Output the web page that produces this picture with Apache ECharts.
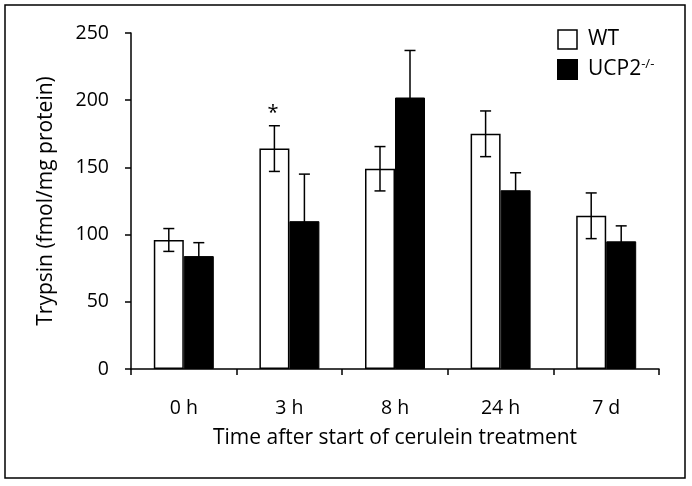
<!DOCTYPE html>
<html><head><meta charset="utf-8">
<script src="https://cdn.jsdelivr.net/npm/echarts@6/dist/echarts.min.js"></script>
<style>html,body{margin:0;padding:0;background:#fff}#c{width:692px;height:486px}</style>
</head><body><div id="c"></div>
<script>
const categories = ['0 h', '3 h', '8 h', '24 h', '7 d'];
const wtValues = [96, 164, 149, 175, 114];
const wtErrors = [8.5, 17, 16.5, 17, 17];
const koValues = [84, 110, 202, 133, 95];
const koErrors = [10, 35, 35, 13, 11.5];
const yTicks = [0, 50, 100, 150, 200, 250];

const FONT = 'Open Sans';
const chart = echarts.init(document.getElementById('c'));

function errSeries(vals, errs, offset) {
  return {
    type: 'custom',
    silent: true,
    z: 10,
    data: vals.map((v, i) => [i, v, errs[i]]),
    renderItem: function (params, api) {
      const i = api.value(0), v = api.value(1), e = api.value(2);
      const hi = api.coord([i, v + e]);
      const lo = api.coord([i, v - e]);
      const x = hi[0] + offset;
      const cw = 5.5;
      const style = {stroke: '#000', lineWidth: 1.5};
      return {type: 'group', children: [
        {type: 'line', shape: {x1: x, y1: hi[1], x2: x, y2: lo[1]}, style},
        {type: 'line', shape: {x1: x - cw, y1: hi[1], x2: x + cw, y2: hi[1]}, style},
        {type: 'line', shape: {x1: x - cw, y1: lo[1], x2: x + cw, y2: lo[1]}, style}
      ]};
    }
  };
}

chart.setOption({
  animation: false,
  textStyle: {fontFamily: FONT},
  graphic: [{type: 'rect', shape: {x: 5, y: 5, width: 680, height: 473}, style: {fill: 'none', stroke: '#000', lineWidth: 1.5}, z: -1},
    {type: 'text', x: 273, y: 113, style: {text: '*', font: '20px "' + FONT + '"', fill: '#000', textAlign: 'center', textVerticalAlign: 'middle'}}],
  grid: {left: 131, right: 33, top: 33, bottom: 117},
  legend: {
    orient: 'vertical', left: 552, top: 24, itemGap: 8,
    itemWidth: 19, itemHeight: 19, icon: 'rect',
    data: [{name: 'WT', itemStyle: {color: '#fff', borderColor: '#000', borderWidth: 1.5}}, {name: 'UCP2'}],
    formatter: n => n === 'UCP2' ? 'UCP2{sup|-/-}' : n,
    textStyle: {fontFamily: FONT, fontSize: 21, color: '#000', padding: [0, 0, 0, 6],
      rich: {sup: {fontSize: 13, verticalAlign: 'top', padding: [0, 0, 10, 0], fontFamily: FONT, color: '#000'}}}
  },
  xAxis: {
    type: 'category', data: categories,
    name: 'Time after start of cerulein treatment', nameLocation: 'middle', nameGap: 59,
    nameTextStyle: {fontFamily: FONT, fontSize: 21, color: '#000'},
    axisLine: {lineStyle: {color: '#000', width: 1.5}},
    axisTick: {show: true, length: 6, lineStyle: {color: '#000', width: 1.5}},
    axisLabel: {fontFamily: FONT, fontSize: 19.5, color: '#000', margin: 29}
  },
  yAxis: {
    type: 'value', min: 0, max: 250, interval: 50,
    name: 'Trypsin (fmol/mg protein)', nameLocation: 'middle', nameGap: 74,
    nameTextStyle: {fontFamily: FONT, fontSize: 21, color: '#000'},
    axisLine: {show: true, lineStyle: {color: '#000', width: 1.5}},
    axisTick: {show: true, length: 6, lineStyle: {color: '#000', width: 1.5}},
    axisLabel: {fontFamily: FONT, fontSize: 19.5, color: '#000', margin: 22,
      formatter: v => yTicks.includes(v) ? String(v) : ''},
    splitLine: {show: false}
  },
  series: [
    {name: 'WT', type: 'bar', data: wtValues, barWidth: 30, barGap: '0%',
      itemStyle: {color: '#fff', borderColor: '#000', borderWidth: 1.5}},
    {name: 'UCP2', type: 'bar', data: koValues, barWidth: 30, barGap: '0%',
      itemStyle: {color: '#000', borderColor: '#000', borderWidth: 1}},
    errSeries(wtValues, wtErrors, -15),
    errSeries(koValues, koErrors, 15)
  ]
});
</script></body></html>
